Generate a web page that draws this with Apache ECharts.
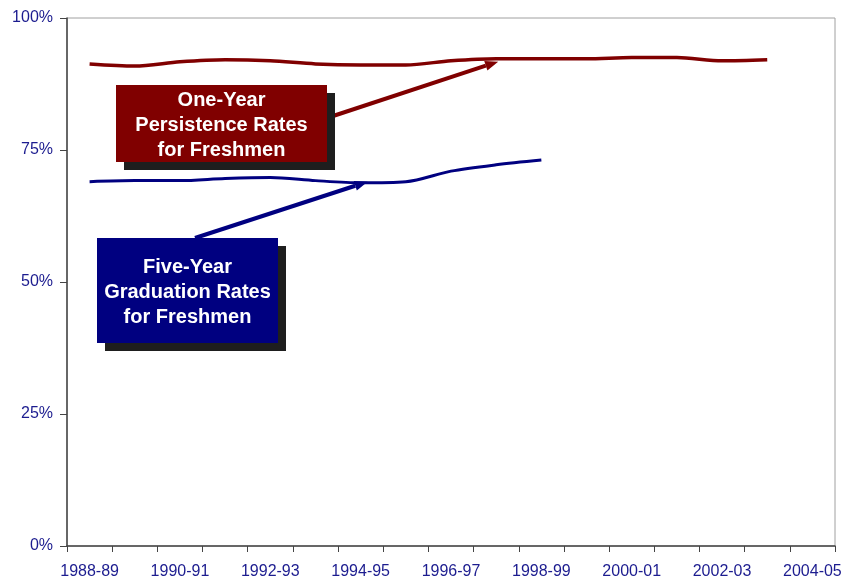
<!DOCTYPE html>
<html><head><meta charset="utf-8">
<script src="https://cdn.jsdelivr.net/npm/echarts@6/dist/echarts.min.js"></script>
<style>html,body{margin:0;padding:0;background:#fff}#c{width:847px;height:579px}</style>
</head><body><div id="c"></div>
<script>
var categories = ['1988-89','1989-90','1990-91','1991-92','1992-93','1993-94','1994-95','1995-96','1996-97','1997-98','1998-99','1999-00','2000-01','2001-02','2002-03','2003-04','2004-05'];
var persistence = [91.3, 90.9, 91.7, 92.1, 91.9, 91.3, 91.1, 91.1, 91.9, 92.3, 92.3, 92.3, 92.5, 92.5, 91.9, 92.1, null];
var graduation = [69.0, 69.2, 69.2, 69.6, 69.8, 69.2, 68.8, 69.0, 71.0, 72.2, 73.1, null, null, null, null, null, null];
var yTicks = [0, 25, 50, 75, 100];
var persistLabel = ['One-Year', 'Persistence Rates', 'for Freshmen'];
var gradLabel = ['Five-Year', 'Graduation Rates', 'for Freshmen'];

var RED = '#800000', BLUE = '#000080', LABEL = '#1c1c8f';
var chart = echarts.init(document.getElementById('c'));
var font = '"Liberation Sans", Arial, sans-serif';
chart.setOption({
  animation: false,
  grid: {left: 67, right: 12, top: 18, bottom: 33, show: true, borderColor: '#a0a0a0', borderWidth: 1, containLabel: false, outerBoundsMode: 'none'},
  xAxis: {
    type: 'category', data: categories, boundaryGap: true,
    axisLine: {lineStyle: {color: '#444', width: 1.5}},
    axisTick: {show: true, interval: 0, length: 6, lineStyle: {color: '#444'}},
    axisLabel: {interval: 1, color: LABEL, fontSize: 16, fontFamily: font, margin: 18}
  },
  yAxis: {
    type: 'value', min: 0, max: 100, interval: 25,
    axisLine: {show: true, lineStyle: {color: '#444', width: 1.5}},
    axisTick: {show: true, length: 7, lineStyle: {color: '#444'}},
    splitLine: {show: false},
    axisLabel: {color: LABEL, fontSize: 16, fontFamily: font, margin: 14,
      formatter: function(v){ return yTicks.indexOf(v) >= 0 ? v + '%' : ''; }}
  },
  series: [
    {type: 'line', data: persistence, smooth: 0.3, symbol: 'none', lineStyle: {color: RED, width: 3.5}, z: 3},
    {type: 'line', data: graduation, smooth: 0.3, symbol: 'none', lineStyle: {color: BLUE, width: 3}, z: 3}
  ]
});

function arrow(x1, y1, x2, y2, color) {
  var ang = Math.atan2(y2 - y1, x2 - x1), L = 13, W = 5;
  var bx = x2 - L * Math.cos(ang), by = y2 - L * Math.sin(ang);
  var px = -Math.sin(ang), py = Math.cos(ang);
  return [
    {type: 'line', shape: {x1: x1, y1: y1, x2: bx, y2: by}, style: {stroke: color, lineWidth: 4}, z: 10},
    {type: 'polygon', shape: {points: [[x2, y2], [bx + px * W, by + py * W], [bx - px * W, by - py * W]]}, style: {fill: color}, z: 10}
  ];
}
function box(x, y, w, h, color, lines) {
  return [
    {type: 'rect', shape: {x: x + 8, y: y + 8, width: w, height: h}, style: {fill: '#1e1e1e'}, z: 11},
    {type: 'rect', shape: {x: x, y: y, width: w, height: h}, style: {fill: color}, z: 12},
    {type: 'text', x: x + w / 2, y: y + h / 2 + 2, z: 13,
      style: {text: lines.join('\n'), fill: '#fff', font: 'bold 20px ' + font, align: 'center', verticalAlign: 'middle', lineHeight: 25}}
  ];
}
var redTip = chart.convertToPixel({gridIndex: 0}, ['1997-98', 92.3]);
var blueTip = chart.convertToPixel({gridIndex: 0}, ['1994-95', 68.8]);
var els = [];
els = els.concat(arrow(327, 118, redTip[0] + 2, redTip[1] + 3, RED));
els = els.concat(arrow(195, 238, blueTip[0] + 7, blueTip[1] - 1, BLUE));
els = els.concat(box(116, 85, 211, 77, RED, persistLabel));
els = els.concat(box(97, 238, 181, 105, BLUE, gradLabel));
chart.setOption({graphic: els});
</script></body></html>
